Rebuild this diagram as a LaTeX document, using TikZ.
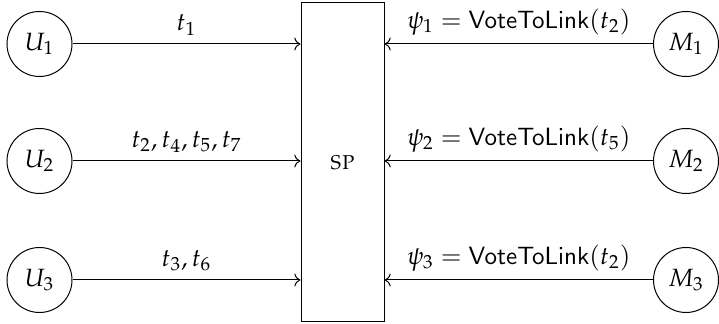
\documentclass[tikz,border=0pt]{standalone}
\usepackage[T1]{fontenc}
\usepackage{mathpazo}
\usetikzlibrary{arrows.meta, positioning}
\tikzset{
  party/.style={draw, circle, minimum size=26pt, inner sep=0pt},
  server/.style={draw, rectangle, minimum width=33.2pt, minimum height=127.6pt},
}
\begin{document}
\begin{tikzpicture}[x=0.4pt, y=-0.4pt]
  \useasboundingbox (0,0) rectangle (719,324);
  \node[server] (sp) at (342.5,162.5) {\textsc{sp}};
  \foreach \i/\y/\tl/\vt in {1/44/{t_1}/2, 2/161/{t_2, t_4, t_5, t_7}/5, 3/280/{t_3, t_6}/2} {
    \node[party] (U\i) at (39.5,\y) {$U_\i$};
    \node[party] (M\i) at (686,\y) {$M_\i$};
    \draw[->] (U\i) -- (U\i -| sp.west) node[midway, above] {$\tl$};
    \draw[->] (M\i) -- (M\i -| sp.east) node[midway, above] {$\psi_\i = \mathsf{VoteToLink}(t_\vt)$};
  }
\end{tikzpicture}
\end{document}
